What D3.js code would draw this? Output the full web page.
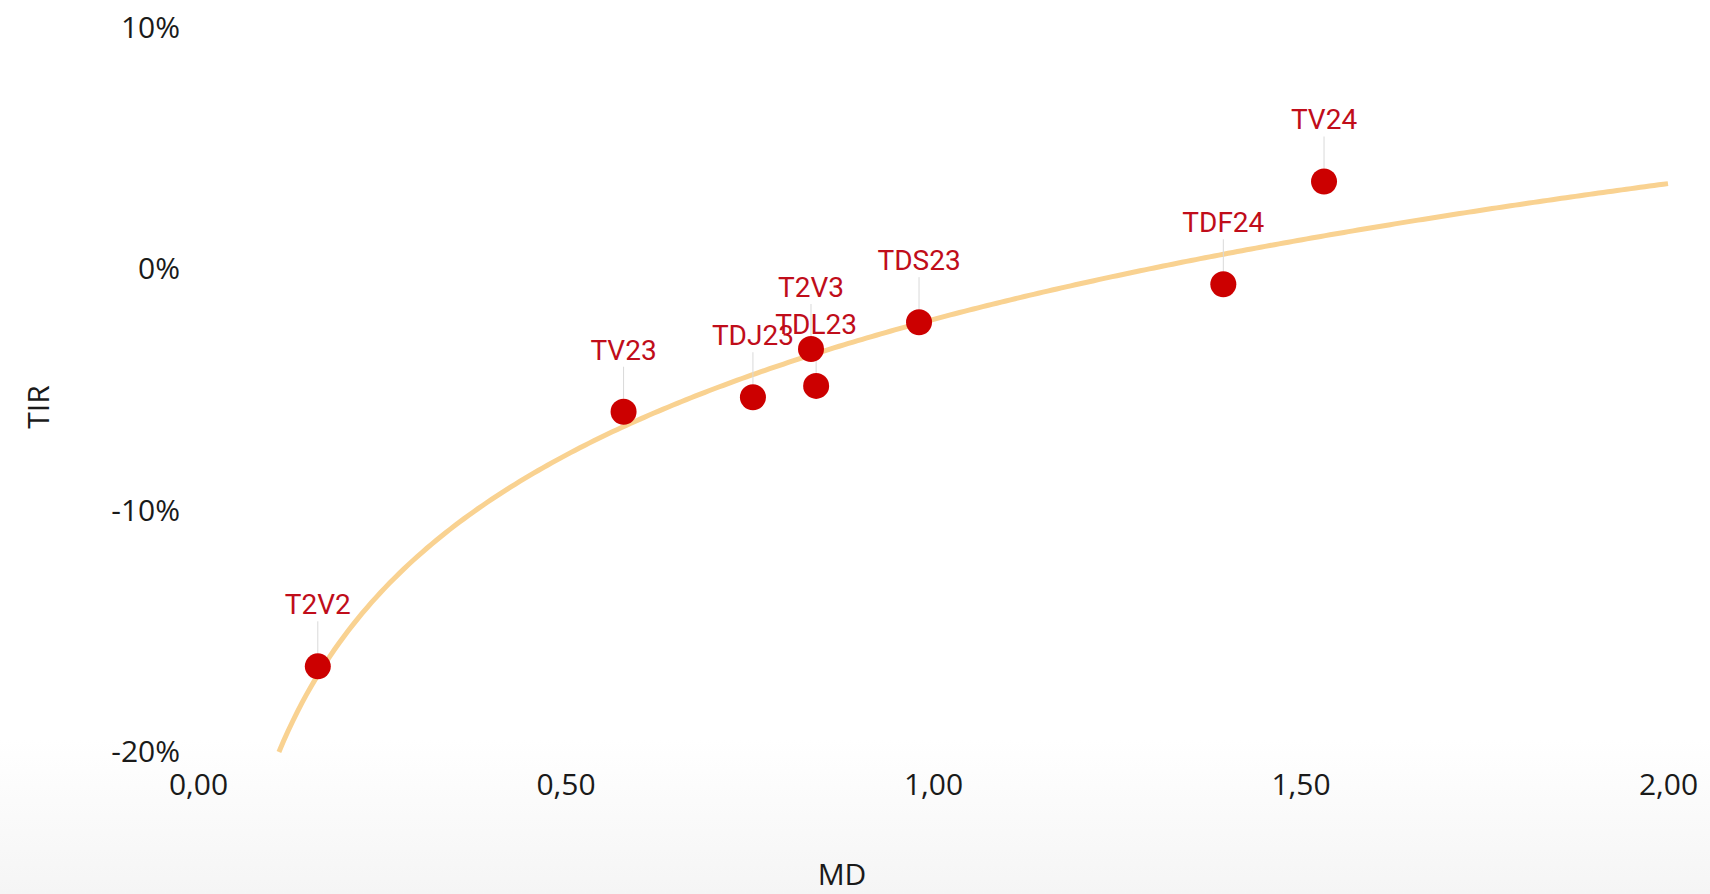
<!DOCTYPE html>
<html>
<head>
<meta charset="utf-8">
<script src="https://cdn.jsdelivr.net/npm/d3@7"></script>
<style>
  html, body { margin: 0; padding: 0; background: #fff; }
  svg { display: block; }
</style>
</head>
<body>
<svg id="chart"></svg>
<script>
// ─── Data ─────────────────────────────────────────────────────────────────────
const names = ['T2V2', 'TV23', 'TDJ23', 'T2V3', 'TDL23', 'TDS23', 'TDF24', 'TV24'];
const md    = [0.163, 0.579, 0.755, 0.834, 0.841, 0.981, 1.395, 1.532];
const tir   = [-0.1645, -0.059, -0.053, -0.033, -0.0483, -0.0219, -0.0062, 0.0364];
const xTicks = [0, 0.5, 1, 1.5, 2];
const yTicks = [-0.2, -0.1, 0, 0.1];

const width = 1710, height = 894;
const margin = { top: 28, right: 42, bottom: 142, left: 198 };
const AXIS_FONT = '"Open Sans", "Noto Sans", sans-serif';
const LABEL_FONT = 'Roboto, "Noto Sans", sans-serif';

const locale = d3.formatLocale({ decimal: ',', thousands: '.', grouping: [3], currency: ['', '€'], minus: '-' });
const fmtX = locale.format('.2f');
const fmtY = locale.format('.0%');

const points = names.map((name, i) => ({ name, md: md[i], tir: tir[i] }));

const svg = d3.select('#chart').attr('width', width).attr('height', height);

// Subtle bottom shading
const defs = svg.append('defs');
const grad = defs.append('linearGradient').attr('id', 'bottomShade')
  .attr('x1', 0).attr('x2', 0).attr('y1', 0).attr('y2', 1);
grad.append('stop').attr('offset', '0%').attr('stop-color', '#fff');
grad.append('stop').attr('offset', '100%').attr('stop-color', '#f5f5f5');
svg.append('rect').attr('x', 0).attr('y', 740).attr('width', width).attr('height', height - 740)
  .attr('fill', 'url(#bottomShade)');

const x = d3.scaleLinear().domain([0, 2]).range([margin.left, width - margin.right]);
const y = d3.scaleLinear().domain([-0.2, 0.1]).range([height - margin.bottom, margin.top]);

// ─── Logarithmic trend line (least squares on ln(MD)) ─────────────────────────
const lx = points.map(d => Math.log(d.md));
const mx = d3.mean(lx), my = d3.mean(points, d => d.tir);
const b = d3.sum(points, (d, i) => (lx[i] - mx) * (d.tir - my)) / d3.sum(lx, v => (v - mx) ** 2);
const a = my - b * mx;
const xStart = Math.exp((y.domain()[0] - a) / b);
const trend = d3.range(0, 301).map(i => {
  const xv = xStart + (2 - xStart) * i / 300;
  return [xv, a + b * Math.log(xv)];
});

svg.append('path').datum(trend)
  .attr('fill', 'none')
  .attr('stroke', '#f9d291')
  .attr('stroke-width', 5)
  .attr('d', d3.line().x(d => x(d[0])).y(d => y(d[1])));

// ─── Axes ─────────────────────────────────────────────────────────────────────
svg.append('g')
  .attr('transform', `translate(${margin.left},0)`)
  .call(d3.axisLeft(y).tickValues(yTicks).tickSize(0).tickPadding(18).tickFormat(fmtY))
  .call(g => g.select('.domain').remove())
  .selectAll('text')
  .attr('font-family', AXIS_FONT).attr('font-size', 30).attr('fill', '#1a1a1a');

svg.append('g')
  .attr('transform', `translate(0,${height - margin.bottom})`)
  .call(d3.axisBottom(x).tickValues(xTicks).tickSize(0).tickPadding(22).tickFormat(fmtX))
  .call(g => g.select('.domain').remove())
  .selectAll('text')
  .attr('font-family', AXIS_FONT).attr('font-size', 30).attr('fill', '#1a1a1a');

// Axis titles
svg.append('text')
  .attr('x', 842).attr('y', 885)
  .attr('text-anchor', 'middle')
  .attr('font-family', AXIS_FONT).attr('font-size', 30).attr('fill', '#1a1a1a')
  .text('MD');

svg.append('text')
  .attr('transform', 'translate(49,407) rotate(-90)')
  .attr('text-anchor', 'middle')
  .attr('font-family', AXIS_FONT).attr('font-size', 30).attr('fill', '#1a1a1a')
  .text('TIR');

// ─── Points, leader lines, labels ─────────────────────────────────────────────
const r = 13, labelOffset = 52;

svg.append('g').selectAll('line').data(points).join('line')
  .attr('x1', d => x(d.md)).attr('x2', d => x(d.md))
  .attr('y1', d => y(d.tir) - labelOffset + 7)
  .attr('y2', d => y(d.tir) - r)
  .attr('stroke', '#d9d9d9').attr('stroke-width', 1);

svg.append('g').selectAll('circle').data(points).join('circle')
  .attr('cx', d => x(d.md)).attr('cy', d => y(d.tir)).attr('r', r)
  .attr('fill', '#cc0000');

svg.append('g').selectAll('text').data(points).join('text')
  .attr('x', d => x(d.md)).attr('y', d => y(d.tir) - labelOffset)
  .attr('text-anchor', 'middle')
  .attr('font-family', LABEL_FONT).attr('font-size', 28).attr('fill', '#c00d1a')
  .text(d => d.name);
</script>
</body>
</html>
